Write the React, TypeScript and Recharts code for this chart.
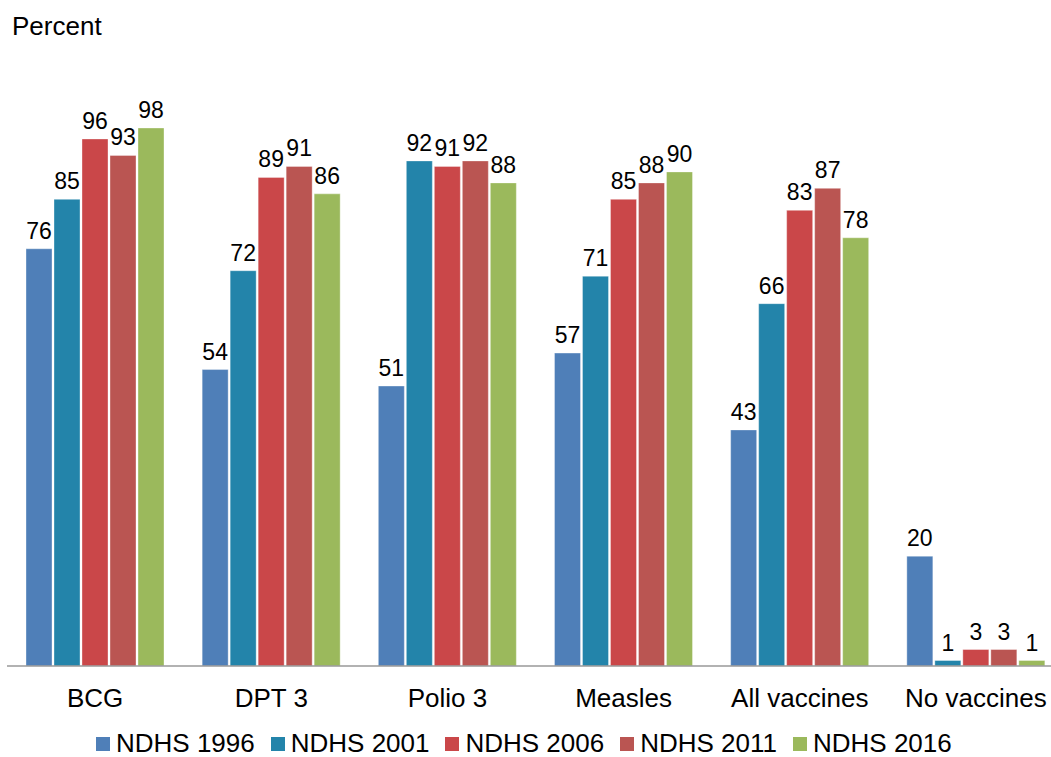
import React from "react";
import {
  BarChart,
  Bar,
  XAxis,
  YAxis,
  LabelList,
} from "recharts";

const categories = [
  "BCG",
  "DPT 3",
  "Polio 3",
  "Measles",
  "All vaccines",
  "No vaccines",
];

const ndhs1996 = [76, 54, 51, 57, 43, 20];
const ndhs2001 = [85, 72, 92, 71, 66, 1];
const ndhs2006 = [96, 89, 91, 85, 83, 3];
const ndhs2011 = [93, 91, 92, 88, 87, 3];
const ndhs2016 = [98, 86, 88, 90, 78, 1];

const series = [
  { key: "y1996", name: "NDHS 1996", values: ndhs1996, color: "#4F7FB8" },
  { key: "y2001", name: "NDHS 2001", values: ndhs2001, color: "#2384AA" },
  { key: "y2006", name: "NDHS 2006", values: ndhs2006, color: "#CA4749" },
  { key: "y2011", name: "NDHS 2011", values: ndhs2011, color: "#BA5552" },
  { key: "y2016", name: "NDHS 2016", values: ndhs2016, color: "#9BB95C" },
];

const data = categories.map((name, i) => {
  const row: Record<string, string | number> = { name };
  series.forEach((s) => {
    row[s.key] = s.values[i];
  });
  return row;
});

const FONT = "'Liberation Sans', Arial, Helvetica, sans-serif";

export default function App() {
  return (
    <div
      style={{
        position: "fixed",
        left: 0,
        top: 0,
        width: 1051,
        height: 757,
        overflow: "hidden",
        background: "#ffffff",
        fontFamily: FONT,
      }}
    >
      {/* axis title */}
      <div
        style={{
          position: "absolute",
          left: 12,
          top: 13,
          fontSize: 26,
          lineHeight: "26px",
          color: "#000",
        }}
      >
        Percent
      </div>

      <BarChart
        width={1064}
        height={757}
        data={data}
        margin={{ top: 117, right: 0, bottom: 51, left: 7 }}
        barSize={26}
        barGap={2}
        style={{ fontFamily: FONT }}
      >
        <XAxis
          dataKey="name"
          height={40}
          tickLine={false}
          tickSize={0}
          tickMargin={23}
          axisLine={{ stroke: "#999999", strokeWidth: 1.5 }}
          tick={{ fill: "#000", fontSize: 26 }}
          interval={0}
        />
        <YAxis hide domain={[0, 100]} />
        {series.map((s) => (
          <Bar
            key={s.key}
            dataKey={s.key}
            name={s.name}
            fill={s.color}
            stroke="#ffffff"
            strokeOpacity={0.35}
            strokeWidth={1}
            isAnimationActive={false}
          >
            <LabelList
              dataKey={s.key}
              position="top"
              offset={10}
              fill="#000"
              fontSize={23}
            />
          </Bar>
        ))}
      </BarChart>

      {/* legend along the bottom */}
      <div
        style={{
          position: "absolute",
          left: 96,
          top: 735,
          display: "flex",
          alignItems: "flex-end",
          fontSize: 26,
          lineHeight: "16px",
          color: "#000",
          whiteSpace: "nowrap",
        }}
      >
        {series.map((s) => (
          <div
            key={s.key}
            style={{ display: "flex", alignItems: "flex-end", marginRight: 16 }}
          >
            <span
              style={{
                display: "inline-block",
                width: 14,
                height: 14,
                background: s.color,
                marginRight: 6,
              }}
            />
            <span style={{ display: "inline-block", height: 16 }}>{s.name}</span>
          </div>
        ))}
      </div>
    </div>
  );
}
